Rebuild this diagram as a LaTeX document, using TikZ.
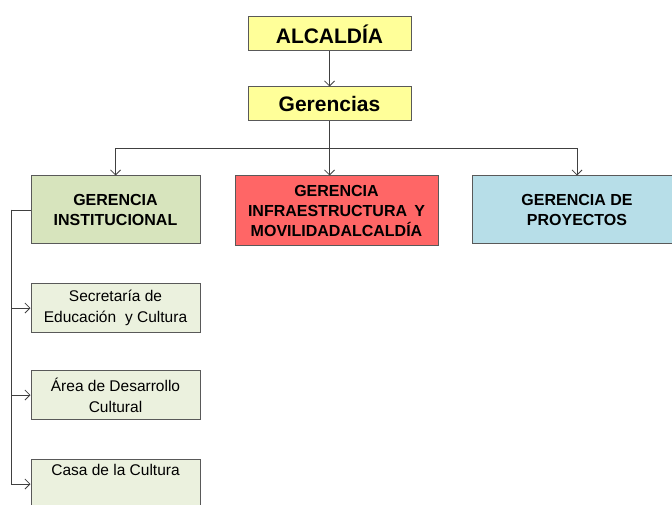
\documentclass[tikz,border=0pt]{standalone}
\usepackage{fontspec}
\setmainfont{Liberation Sans}
\usetikzlibrary{arrows.meta}
\definecolor{yel}{HTML}{FFFF99}
\definecolor{gin}{HTML}{D7E4BD}
\definecolor{rin}{HTML}{FF6666}
\definecolor{bin}{HTML}{B7DEE8}
\definecolor{lgr}{HTML}{EBF1DE}
\definecolor{edge}{HTML}{595959}
\definecolor{conn}{HTML}{404040}
\tikzset{
  box/.style={draw=edge, line width=1pt, rectangle, align=center, inner sep=0pt, text=black},
  topbox/.style={box, fill=yel, minimum width=163pt, minimum height=34pt, font=\fontsize{21}{24}\selectfont\bfseries},
  gbox/.style={box, minimum height=68pt, font=\fontsize{16}{20}\selectfont\bfseries},
  subbox/.style={box, fill=lgr, minimum width=169pt, minimum height=49pt, font=\fontsize{15.5}{21}\selectfont},
  conline/.style={draw=conn, line width=0.8pt},
  arr/.style={conline, -{Straight Barb[length=5pt, width=10pt, line width=0.8pt]}}
}
\begin{document}
\begin{tikzpicture}[x=1pt, y=-1pt]
\useasboundingbox (0,0) rectangle (672,505);
\clip (0,0) rectangle (672,505);
\node[topbox] (alc) at (329.5,34) {ALCALDÍA};
\node[topbox] (ger) at (329.5,104) {Gerencias};
\node[gbox, fill=gin, minimum width=169pt] (inst) at (115.5,210) {GERENCIA\\INSTITUCIONAL};
\node[gbox, fill=rin, minimum width=203pt, minimum height=70pt] (infra) at (336.5,211) {GERENCIA\\INFRAESTRUCTURA\hspace{0.45em}Y\\MOVILIDADALCALDÍA};
\node[gbox, fill=bin, minimum width=210pt] (proy) at (577,210) {GERENCIA DE\\PROYECTOS};
\node[subbox] (sec) at (115.5,308) {Secretaría de\\Educación\hspace{0.3em} y Cultura};
\node[subbox] (area) at (115.5,395) {Área de Desarrollo\\Cultural};
\node[subbox] (casa) at (115.5,484) {Casa de la Cultura\\\strut};
\coordinate (bar) at (329.5,148);
\coordinate (lft) at (11,210);
\draw[arr] (alc) -- (ger);
\draw[conline] (ger.south) -- (bar);
\draw[arr] (bar) -- (bar |- infra.north);
\draw[arr] (bar) -| (inst.north);
\draw[arr] (bar) -| (proy.north);
\draw[conline] (inst.west) -- (lft);
\draw[arr] (lft) |- (sec.west);
\draw[arr] (lft) |- (area.west);
\draw[arr] (lft) |- (casa.west);
\end{tikzpicture}
\end{document}
